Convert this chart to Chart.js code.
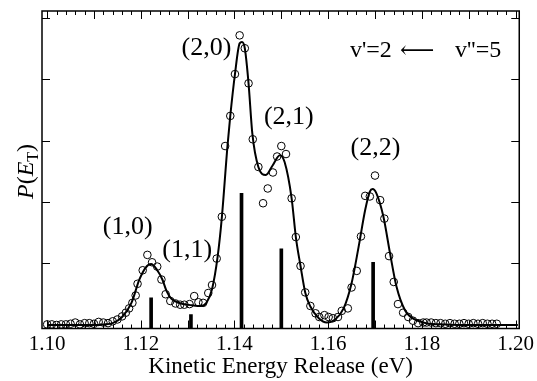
<!DOCTYPE html>
<html>
<head>
<meta charset="utf-8">
<script src="https://cdn.jsdelivr.net/npm/chart.js@4.4.0/dist/chart.umd.min.js"></script>
<style>
  html, body { margin: 0; padding: 0; background: #fff; }
</style>
</head>
<body>
<canvas id="ker-chart" width="537" height="381"></canvas>
<script>
// measured points (open circles)
const energy = [
  1.1000, 1.1010, 1.1020, 1.1030, 1.1040, 1.1050, 1.1060, 1.1070, 1.1080, 1.1090,
  1.1100, 1.1110, 1.1120, 1.1130, 1.1140, 1.1150, 1.1160, 1.1168, 1.1175, 1.1182,
  1.1189, 1.1193, 1.1204, 1.1214, 1.1224, 1.1235, 1.1244, 1.1253, 1.1263, 1.1274,
  1.1284, 1.1293, 1.1304, 1.1314, 1.1323, 1.1333, 1.1344, 1.1352, 1.1362, 1.1373,
  1.1380, 1.1391, 1.1401, 1.1411, 1.1422, 1.1430, 1.1439, 1.1451, 1.1461, 1.1471,
  1.1482, 1.1491, 1.1500, 1.1510, 1.1522, 1.1531, 1.1541, 1.1551, 1.1562, 1.1573,
  1.1581, 1.1592, 1.1601, 1.1610, 1.1621, 1.1629, 1.1642, 1.1650, 1.1661, 1.1670,
  1.1679, 1.1689, 1.1700, 1.1711, 1.1720, 1.1730, 1.1740, 1.1749, 1.1760, 1.1771,
  1.1781, 1.1792, 1.1803, 1.1810, 1.1820, 1.1830, 1.1840, 1.1850, 1.1860, 1.1870,
  1.1880, 1.1890, 1.1900, 1.1910, 1.1920, 1.1930, 1.1940, 1.1950, 1.1960
];
const intensity = [
  0.01, 0.01, 0.00, 0.01, 0.01, 0.02, 0.04, 0.01, 0.03, 0.03,
  0.02, 0.05, 0.04, 0.03, 0.06, 0.09, 0.14, 0.20, 0.27, 0.36,
  0.48, 0.67, 0.89, 1.14, 1.02, 0.95, 0.74, 0.50, 0.39, 0.35,
  0.33, 0.33, 0.34, 0.47, 0.37, 0.36, 0.52, 0.65, 1.08, 1.76,
  2.91, 3.40, 4.08, 4.71, 4.50, 3.93, 3.02, 2.57, 1.98, 2.22,
  2.48, 2.74, 2.91, 2.78, 2.06, 1.43, 0.96, 0.53, 0.31, 0.19,
  0.13, 0.16, 0.13, 0.11, 0.13, 0.23, 0.27, 0.61, 0.88, 1.44,
  2.10, 2.09, 2.43, 2.03, 1.73, 1.12, 0.70, 0.34, 0.20, 0.13,
  0.07, 0.03, 0.04, 0.04, 0.04, 0.03, 0.03, 0.02, 0.03, 0.02,
  0.02, 0.03, 0.02, 0.03, 0.02, 0.03, 0.02, 0.02, 0.02
];

// fitted curve
const fitEnergy = [
  1.1000, 1.1050, 1.1100, 1.1120, 1.1140, 1.1160, 1.1180, 1.1197, 1.1210, 1.1222,
  1.1235, 1.1246, 1.1255, 1.1265, 1.1275, 1.1290, 1.1310, 1.1328, 1.1340, 1.1352,
  1.1364, 1.1373, 1.1385, 1.1391, 1.1401, 1.1411, 1.1416, 1.1422, 1.1430, 1.1438,
  1.1451, 1.1467, 1.1481, 1.1497, 1.1507, 1.1522, 1.1531, 1.1541, 1.1551, 1.1562,
  1.1580, 1.1597, 1.1615, 1.1633, 1.1650, 1.1665, 1.1679, 1.1689, 1.1695, 1.1703,
  1.1718, 1.1732, 1.1746, 1.1764, 1.1785, 1.1810, 1.1850, 1.1900, 1.1950, 1.2005
];
const fitCurve = [
  0.00, 0.00, 0.00, 0.01, 0.03, 0.13, 0.36, 0.74, 0.93, 0.99,
  0.89, 0.74, 0.55, 0.43, 0.38, 0.34, 0.32, 0.31, 0.36, 0.58,
  1.11, 1.75, 2.91, 3.40, 4.08, 4.58, 4.60, 4.50, 3.93, 3.12,
  2.57, 2.44, 2.59, 2.76, 2.65, 2.06, 1.43, 0.96, 0.53, 0.30,
  0.11, 0.04, 0.09, 0.27, 0.68, 1.27, 1.87, 2.17, 2.21, 2.14,
  1.76, 1.17, 0.62, 0.24, 0.09, 0.03, 0.01, 0.00, 0.00, 0.00
];

// stick spectrum
const stickEnergy = [1.1222, 1.1307, 1.1415, 1.1500, 1.1696];
const stickHeight = [0.44, 0.17, 2.14, 1.24, 1.02];

// band labels
const bandLabels = ["(1,0)", "(1,1)", "(2,0)", "(2,1)", "(2,2)"];
const bandLabelX = [1.1172, 1.1299, 1.1340, 1.1516, 1.1701];
const bandLabelY = [1.59, 1.22, 4.50, 3.38, 2.88];

const xTickValues = [1.10, 1.12, 1.14, 1.16, 1.18, 1.20];
const yTickValues = [1, 2, 3, 4, 5];

const xMin = 1.0989, xMax = 1.2008;
const yMin = -0.057, yMax = 5.106;

const serif = "'Liberation Serif', 'Times New Roman', serif";

const framePlugin = {
  id: "frame",
  afterDraw(chart) {
    const { ctx, chartArea: a, scales: { x, y } } = chart;
    ctx.save();
    ctx.strokeStyle = "#000";
    ctx.lineWidth = 1.5;
    ctx.strokeRect(a.left, a.top, a.right - a.left, a.bottom - a.top);

    // x ticks, top and bottom, pointing in
    ctx.lineWidth = 1;
    ctx.beginPath();
    for (let i = 0; i <= 50; i++) {
      const v = 1.10 + i * 0.002;
      const px = Math.round(x.getPixelForValue(v)) + 0.5;
      const len = i % 5 === 0 ? 8 : 4;
      ctx.moveTo(px, a.bottom);
      ctx.lineTo(px, a.bottom - len);
      ctx.moveTo(px, a.top);
      ctx.lineTo(px, a.top + len);
    }
    yTickValues.forEach((v) => {
      const py = Math.round(y.getPixelForValue(v)) + 0.5;
      ctx.moveTo(a.left, py);
      ctx.lineTo(a.left + 8, py);
      ctx.moveTo(a.right, py);
      ctx.lineTo(a.right - 8, py);
    });
    ctx.stroke();

    // band labels
    ctx.fillStyle = "#000";
    ctx.font = "26px " + serif;
    ctx.textAlign = "center";
    ctx.textBaseline = "middle";
    bandLabels.forEach((t, i) => {
      ctx.fillText(t, x.getPixelForValue(bandLabelX[i]), y.getPixelForValue(bandLabelY[i]));
    });

    // transition label, drawn in pieces so the arrow can be longer
    const ty = y.getPixelForValue(4.46);
    ctx.textAlign = "left";
    ctx.font = "24px " + serif;
    ctx.fillText("v'=2", 350, ty);
    ctx.font = "24px 'DejaVu Serif'";
    ctx.fillText("\u27F5", 400, ty + 1);
    ctx.font = "24px " + serif;
    ctx.fillText("v''=5", 455, ty);

    // y title P(E_T)
    ctx.translate(33, 199);
    ctx.rotate(-Math.PI / 2);
    ctx.textAlign = "left";
    ctx.textBaseline = "alphabetic";
    let cx = 0;
    const part = (t, font, dy) => {
      ctx.font = font;
      ctx.fillText(t, cx, dy || 0);
      cx += ctx.measureText(t).width;
    };
    part("P", "italic 24px " + serif);
    part("(", "24px " + serif);
    part("E", "italic 24px " + serif);
    part("T", "16px " + serif, 5);
    part(")", "24px " + serif);
    ctx.restore();
  }
};

new Chart(document.getElementById("ker-chart"), {
  data: {
    datasets: [
      {
        type: "line",
        data: fitEnergy.map((e, i) => ({ x: e, y: fitCurve[i] })),
        borderColor: "#000",
        borderWidth: 2,
        pointRadius: 0,
        cubicInterpolationMode: "monotone",
        fill: false,
      },
      {
        type: "scatter",
        data: energy.map((e, i) => ({ x: e, y: intensity[i] })),
        pointRadius: 3.8,
        borderColor: "#000",
        borderWidth: 1,
        backgroundColor: "rgba(0,0,0,0)",
      },
      {
        type: "bar",
        data: stickEnergy.map((e, i) => ({ x: e, y: [yMin, stickHeight[i]] })),
        backgroundColor: "#000",
        barThickness: 3,
      },
    ],
  },
  options: {
    responsive: false,
    animation: false,
    layout: { padding: { top: 11, right: 15, left: 0, bottom: 0 } },
    plugins: { legend: { display: false }, tooltip: { enabled: false } },
    scales: {
      x: {
        type: "linear",
        min: xMin,
        max: xMax,
        offset: false,
        grid: { display: false, drawTicks: false },
        border: { display: false },
        afterBuildTicks: (s) => { s.ticks = xTickValues.map((v) => ({ value: v })); },
        ticks: {
          autoSkip: false,
          maxRotation: 0,
          padding: 3,
          color: "#000",
          font: { family: serif, size: 21 },
          callback: (v) => Number(v).toFixed(2),
        },
        title: {
          display: true,
          text: "Kinetic Energy Release (eV)",
          color: "#000",
          font: { family: serif, size: 23 },
          padding: 0,
        },
        afterFit: (s) => { s.height = 52.5; },
      },
      y: {
        type: "linear",
        min: yMin,
        max: yMax,
        grid: { display: false, drawTicks: false },
        border: { display: false },
        ticks: { display: false },
        afterFit: (s) => { s.width = 42; },
      },
    },
  },
  plugins: [framePlugin],
});
</script>
</body>
</html>
